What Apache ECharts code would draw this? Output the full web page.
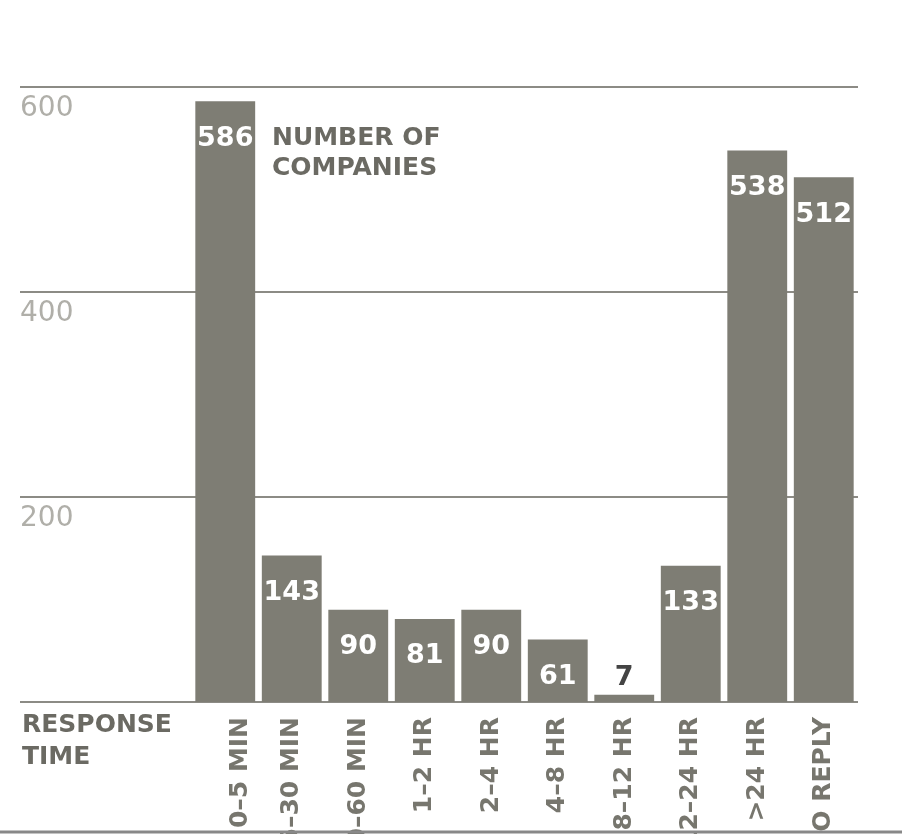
<!DOCTYPE html>
<html>
<head>
<meta charset="utf-8">
<script src="https://cdn.jsdelivr.net/npm/echarts@6/dist/echarts.min.js"></script>
<style>
html,body{margin:0;padding:0;background:#fff;}
#chart{width:902px;height:834px;}
</style>
</head>
<body>
<div id="chart"></div>
<script>
var categories = ['0–5 MIN', '5–30 MIN', '30–60 MIN', '1–2 HR', '2–4 HR', '4–8 HR', '8–12 HR', '12–24 HR', '>24 HR', 'NO REPLY'];
var companies = [586, 143, 90, 81, 90, 61, 7, 133, 538, 512];
var yTicks = [0, 200, 400, 600];

var FONT = 'DejaVu Sans';
var barColor = '#7e7d74';

var chart = echarts.init(document.getElementById('chart'));
var barData = companies.map(function (v) {
  if (v < 30) {
    return { value: v, label: { position: 'top', distance: 3, color: '#444' } };
  }
  return v;
});

chart.setOption({
  animation: false,
  backgroundColor: '#fff',
  grid: [
    { left: 192, right: 45, top: 87, bottom: 132, outerBoundsMode: 'none', containLabel: false },
    { left: 20, right: 44, top: 87, bottom: 132, outerBoundsMode: 'none', containLabel: false }
  ],
  xAxis: [
    {
      gridIndex: 0,
      type: 'category',
      data: categories,
      axisLine: { show: false },
      axisTick: { show: false },
      axisLabel: {
        rotate: 90,
        margin: 15,
        fontFamily: FONT,
        fontWeight: 'bold',
        fontSize: 25,
        lineHeight: 30,
        color: '#77766e',
        interval: 0,
        hideOverlap: false,
        formatter: function (v, i) { return i === 0 ? '\n' + v : v; }
      }
    },
    { gridIndex: 1, type: 'value', min: 0, max: 1, show: false }
  ],
  yAxis: [
    { gridIndex: 0, type: 'value', min: yTicks[0], max: yTicks[yTicks.length - 1], interval: 200, show: false },
    {
      gridIndex: 1,
      type: 'value',
      min: yTicks[0],
      max: yTicks[yTicks.length - 1],
      interval: 200,
      axisLine: { show: false },
      axisTick: { show: false },
      splitLine: { show: true, lineStyle: { color: '#8c8b85', width: 2 } },
      axisLabel: {
        inside: true,
        margin: 0,
        verticalAlign: 'top',
        padding: [8, 0, 0, 0],
        fontFamily: FONT,
        fontSize: 28,
        color: '#b0afa9',
        formatter: function (v) { return v === 0 ? '' : String(v); }
      }
    }
  ],
  series: [
    {
      type: 'bar',
      xAxisIndex: 0,
      yAxisIndex: 0,
      data: barData,
      barCategoryGap: '10%',
      itemStyle: { color: barColor },
      z: 3,
      label: {
        show: true,
        position: 'insideTop',
        distance: 24,
        fontFamily: FONT,
        fontWeight: 'bold',
        fontSize: 27,
        color: '#fff'
      }
    }
  ],
  graphic: [
    {
      type: 'text',
      left: 272,
      top: 123,
      style: {
        text: 'NUMBER OF\nCOMPANIES',
        fontFamily: FONT,
        fontWeight: 'bold',
        fontSize: 25,
        lineHeight: 30,
        fill: '#6b6a63'
      }
    },
    {
      type: 'text',
      left: 22,
      top: 709,
      style: {
        text: 'RESPONSE\nTIME',
        fontFamily: FONT,
        fontWeight: 'bold',
        fontSize: 25,
        lineHeight: 32,
        fill: '#6b6a63'
      }
    },
    {
      type: 'line',
      z: 100,
      shape: { x1: 0, y1: 832, x2: 902, y2: 832 },
      style: { stroke: '#888', lineWidth: 3 }
    }
  ]
});
</script>
</body>
</html>
